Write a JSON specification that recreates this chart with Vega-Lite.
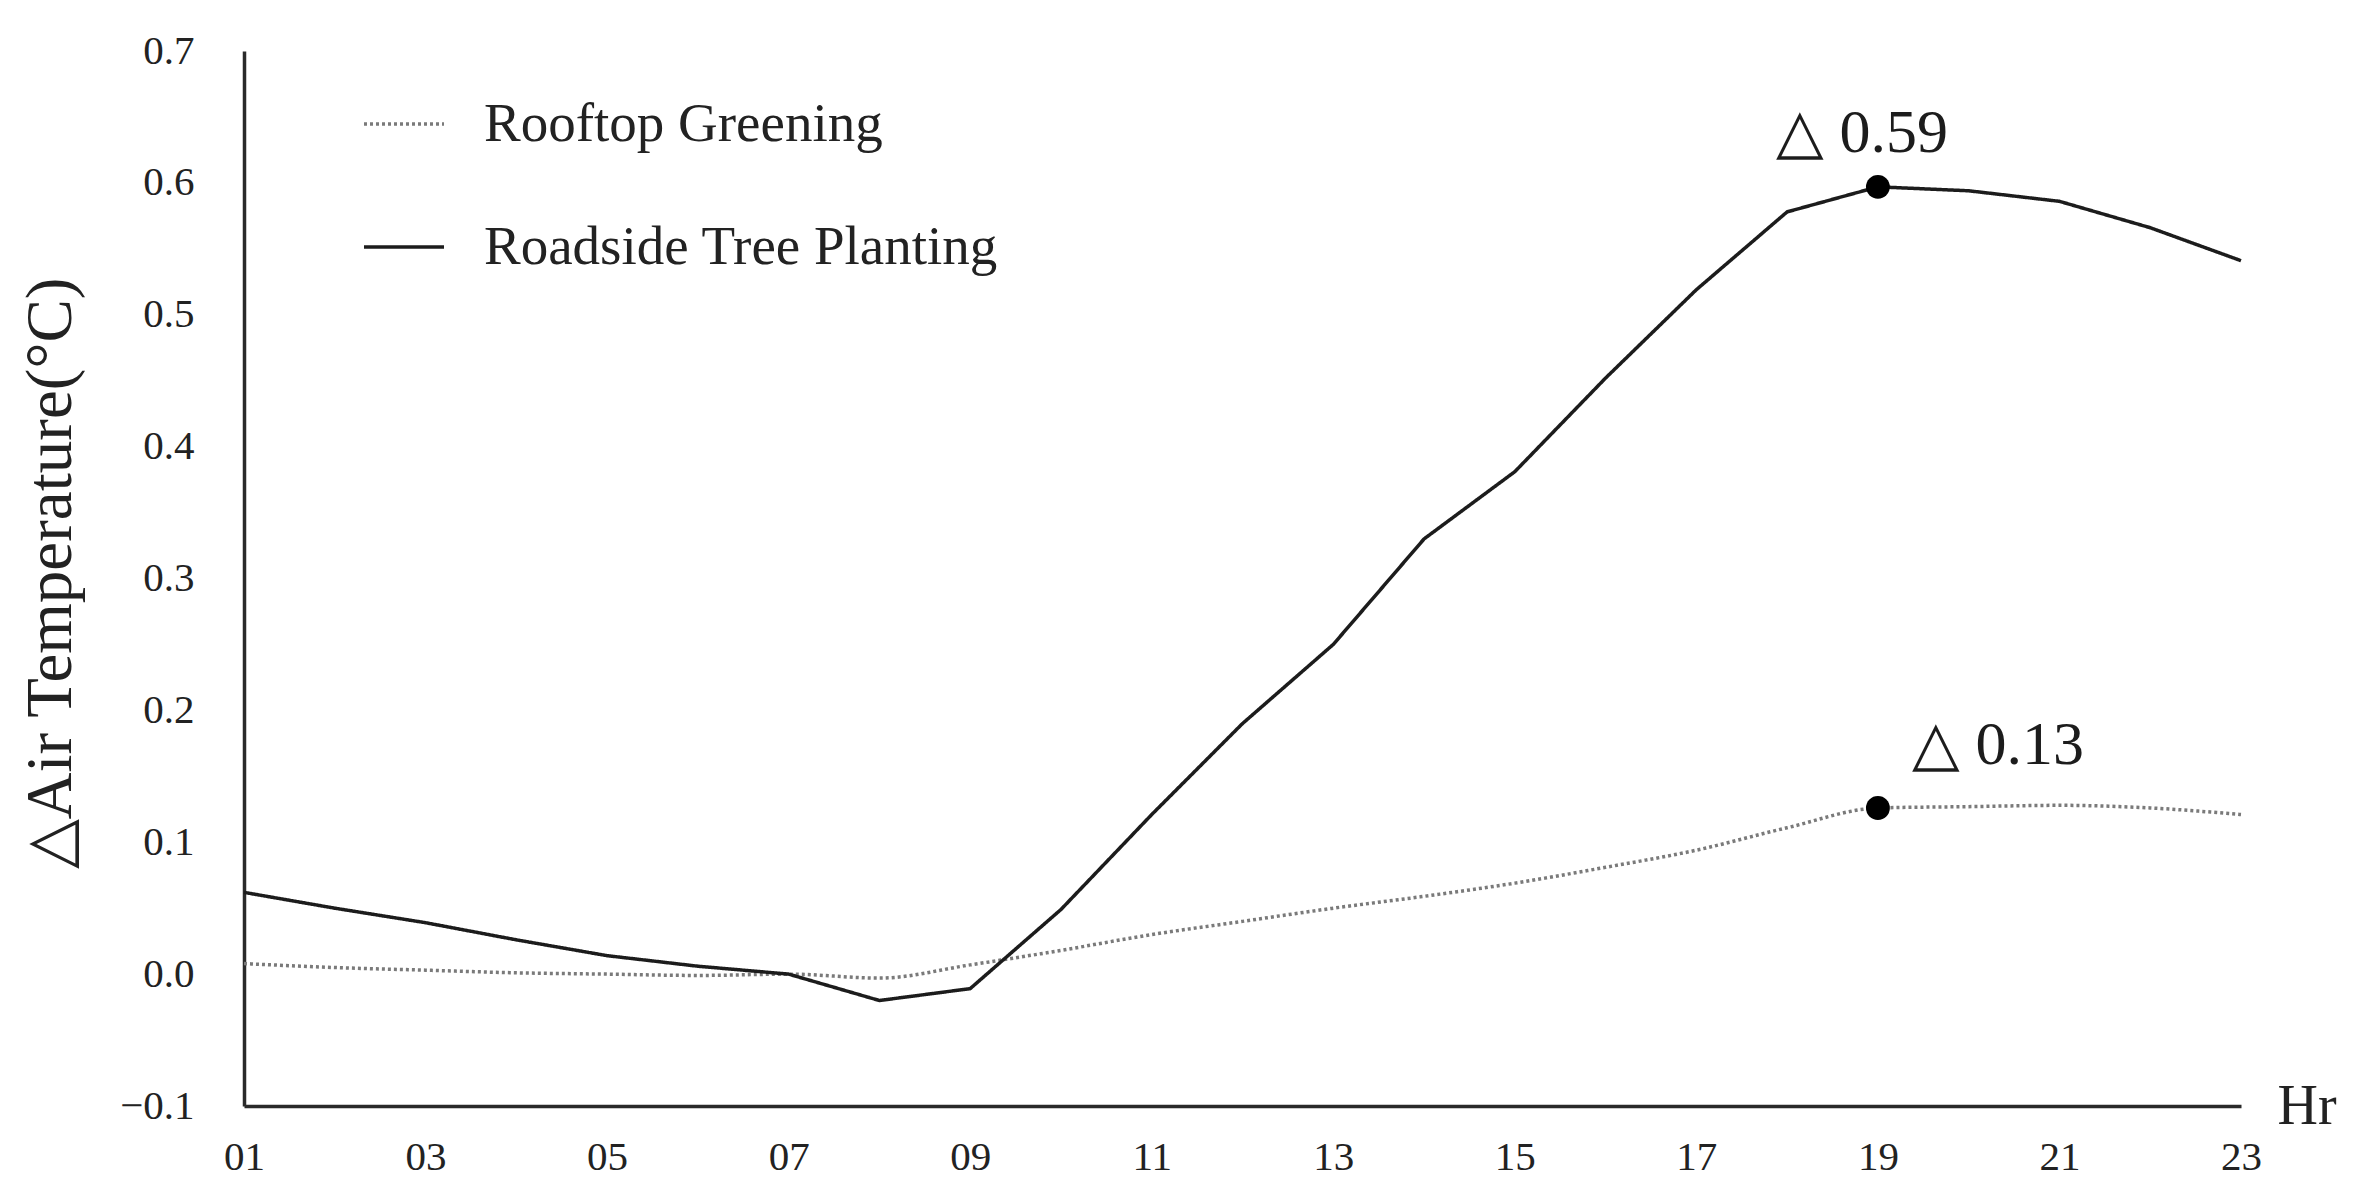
{
  "$schema": "https://vega.github.io/schema/vega-lite/v6.json",
  "width": 1997,
  "height": 1055,
  "autosize": {"type": "none"},
  "padding": {"left": 244, "top": 51, "right": 113, "bottom": 97},
  "background": "white",
  "datasets": {
    "series": [
      {"hour": 1, "series": "Roadside Tree Planting", "value": 0.062},
      {"hour": 2, "series": "Roadside Tree Planting", "value": 0.050},
      {"hour": 3, "series": "Roadside Tree Planting", "value": 0.039},
      {"hour": 4, "series": "Roadside Tree Planting", "value": 0.026},
      {"hour": 5, "series": "Roadside Tree Planting", "value": 0.014},
      {"hour": 6, "series": "Roadside Tree Planting", "value": 0.006},
      {"hour": 7, "series": "Roadside Tree Planting", "value": 0.000},
      {"hour": 8, "series": "Roadside Tree Planting", "value": -0.020},
      {"hour": 9, "series": "Roadside Tree Planting", "value": -0.011},
      {"hour": 10, "series": "Roadside Tree Planting", "value": 0.049},
      {"hour": 11, "series": "Roadside Tree Planting", "value": 0.121},
      {"hour": 12, "series": "Roadside Tree Planting", "value": 0.190},
      {"hour": 13, "series": "Roadside Tree Planting", "value": 0.250},
      {"hour": 14, "series": "Roadside Tree Planting", "value": 0.330},
      {"hour": 15, "series": "Roadside Tree Planting", "value": 0.381},
      {"hour": 16, "series": "Roadside Tree Planting", "value": 0.452},
      {"hour": 17, "series": "Roadside Tree Planting", "value": 0.519},
      {"hour": 18, "series": "Roadside Tree Planting", "value": 0.578},
      {"hour": 19, "series": "Roadside Tree Planting", "value": 0.597},
      {"hour": 20, "series": "Roadside Tree Planting", "value": 0.594},
      {"hour": 21, "series": "Roadside Tree Planting", "value": 0.586},
      {"hour": 22, "series": "Roadside Tree Planting", "value": 0.566},
      {"hour": 23, "series": "Roadside Tree Planting", "value": 0.541},
      {"hour": 1, "series": "Rooftop Greening", "value": 0.008},
      {"hour": 2, "series": "Rooftop Greening", "value": 0.005},
      {"hour": 3, "series": "Rooftop Greening", "value": 0.003},
      {"hour": 4, "series": "Rooftop Greening", "value": 0.001},
      {"hour": 5, "series": "Rooftop Greening", "value": 0.000},
      {"hour": 6, "series": "Rooftop Greening", "value": -0.001},
      {"hour": 7, "series": "Rooftop Greening", "value": 0.000},
      {"hour": 8, "series": "Rooftop Greening", "value": -0.003},
      {"hour": 9, "series": "Rooftop Greening", "value": 0.007},
      {"hour": 10, "series": "Rooftop Greening", "value": 0.018},
      {"hour": 11, "series": "Rooftop Greening", "value": 0.030},
      {"hour": 12, "series": "Rooftop Greening", "value": 0.040},
      {"hour": 13, "series": "Rooftop Greening", "value": 0.050},
      {"hour": 14, "series": "Rooftop Greening", "value": 0.059},
      {"hour": 15, "series": "Rooftop Greening", "value": 0.069},
      {"hour": 16, "series": "Rooftop Greening", "value": 0.081},
      {"hour": 17, "series": "Rooftop Greening", "value": 0.094},
      {"hour": 18, "series": "Rooftop Greening", "value": 0.111},
      {"hour": 19, "series": "Rooftop Greening", "value": 0.126},
      {"hour": 20, "series": "Rooftop Greening", "value": 0.127},
      {"hour": 21, "series": "Rooftop Greening", "value": 0.128},
      {"hour": 22, "series": "Rooftop Greening", "value": 0.126},
      {"hour": 23, "series": "Rooftop Greening", "value": 0.121}
    ],
    "peaks": [
      {"hour": 19, "series": "Roadside Tree Planting", "value": 0.597, "label": "△  0.59"},
      {"hour": 19, "series": "Rooftop Greening", "value": 0.126, "label": "△  0.13"}
    ]
  },
  "encoding": {
    "x": {
      "field": "hour",
      "type": "quantitative",
      "scale": {"domain": [1, 23], "nice": false, "zero": false},
      "axis": {
        "values": [1, 3, 5, 7, 9, 11, 13, 15, 17, 19, 21, 23],
        "labelExpr": "datum.value < 10 ? '0' + datum.value : '' + datum.value",
        "labelFlush": false,
        "labelPadding": 31,
        "labelFontSize": 41,
        "title": "Hr",
        "titleAngle": 0,
        "titleX": 2033,
        "titleY": 0,
        "titleAlign": "left",
        "titleBaseline": "middle",
        "titleFontSize": 56,
        "titleFontWeight": "normal"
      }
    },
    "y": {
      "field": "value",
      "type": "quantitative",
      "scale": {"domain": [-0.1, 0.7], "nice": false, "zero": false},
      "axis": {
        "values": [-0.1, 0, 0.1, 0.2, 0.3, 0.4, 0.5, 0.6, 0.7],
        "format": ".1f",
        "labelFlush": false,
        "labelPadding": 50,
        "labelFontSize": 41,
        "title": "△Air Temperature(°C)",
        "titleAngle": -90,
        "titleX": -174,
        "titleY": 522,
        "titleAlign": "center",
        "titleBaseline": "alphabetic",
        "titleFontSize": 65,
        "titleFontWeight": "normal"
      }
    }
  },
  "layer": [
    {
      "data": {"name": "series"},
      "transform": [{"filter": "datum.series == 'Rooftop Greening'"}],
      "mark": {"type": "line", "interpolate": "monotone", "strokeWidth": 3.5},
      "encoding": {
        "color": {"field": "series", "type": "nominal", "scale": {"domain": ["Rooftop Greening", "Roadside Tree Planting"], "range": ["#7a7a7a", "#1c1c1c"]}},
        "strokeDash": {"field": "series", "type": "nominal", "scale": {"domain": ["Rooftop Greening", "Roadside Tree Planting"], "range": [[3, 3], [1, 0]]}}
      }
    },
    {
      "data": {"name": "series"},
      "transform": [{"filter": "datum.series == 'Roadside Tree Planting'"}],
      "mark": {"type": "line", "interpolate": "linear", "strokeWidth": 3.5},
      "encoding": {
        "color": {"field": "series", "type": "nominal", "scale": {"domain": ["Rooftop Greening", "Roadside Tree Planting"], "range": ["#7a7a7a", "#1c1c1c"]}},
        "strokeDash": {"field": "series", "type": "nominal", "scale": {"domain": ["Rooftop Greening", "Roadside Tree Planting"], "range": [[3, 3], [1, 0]]}}
      }
    },
    {
      "data": {"name": "peaks"},
      "mark": {"type": "point", "filled": true, "size": 570, "color": "#000000", "opacity": 1}
    },
    {
      "data": {"name": "peaks"},
      "transform": [{"filter": "datum.series == 'Roadside Tree Planting'"}],
      "mark": {"type": "text", "dx": -16, "dy": -35, "baseline": "alphabetic", "align": "center", "fontSize": 62, "font": "Liberation Serif", "color": "#1c1c1c"},
      "encoding": {"text": {"field": "label"}}
    },
    {
      "data": {"name": "peaks"},
      "transform": [{"filter": "datum.series == 'Rooftop Greening'"}],
      "mark": {"type": "text", "dx": 120, "dy": -44, "baseline": "alphabetic", "align": "center", "fontSize": 62, "font": "Liberation Serif", "color": "#1c1c1c"},
      "encoding": {"text": {"field": "label"}}
    }
  ],
  "config": {
    "view": {"stroke": null},
    "font": "Liberation Serif",
    "axis": {
      "grid": false,
      "ticks": false,
      "domainColor": "#2a2a2a",
      "domainWidth": 3.5,
      "labelFont": "Liberation Serif",
      "labelColor": "#222222",
      "titleFont": "Liberation Serif",
      "titleColor": "#222222"
    },
    "legend": {
      "orient": "none",
      "legendX": 118,
      "legendY": 31,
      "direction": "vertical",
      "title": null,
      "symbolType": "stroke",
      "symbolSize": 6400,
      "symbolStrokeWidth": 3.5,
      "labelFontSize": 55,
      "labelFont": "Liberation Serif",
      "labelColor": "#222222",
      "labelOffset": 38,
      "rowPadding": 53,
      "padding": 0,
      "labelLimit": 1000
    }
  }
}
